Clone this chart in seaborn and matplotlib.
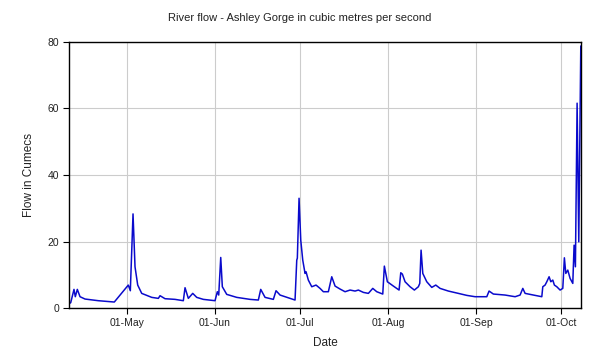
import numpy as np
import pandas as pd
import matplotlib
matplotlib.use("Agg")
import matplotlib.pyplot as plt
import matplotlib.dates as mdates
import seaborn as sns

# Days since 1 May and flow in cumecs
day_offset = [-20.32, -19.72, -18.56, -18.10, -17.39, -16.44, -14.68, -10.0, -4.37,
              0.56, 1.27, 2.22, 2.92, 3.87, 5.28, 8.80, 11.13, 11.73, 13.49, 17.01,
              19.93, 20.53, 21.69, 23.24, 24.65, 26.97, 31.09, 31.90, 32.39, 33.10,
              33.66, 35.21, 38.73, 43.42, 46.34, 47.18, 48.70, 51.62, 52.57, 53.98,
              57.50, 59.26, 59.86, 60.07, 60.67, 61.27, 61.97, 62.78, 63.13, 63.94,
              65.14, 66.65, 68.06, 69.23, 70.99, 72.18, 73.35, 75.11, 76.87, 78.63,
              80.39, 81.55, 83.31, 85.07, 86.62, 88.03, 90.14, 90.70, 91.76, 93.87,
              95.88, 96.48, 97.04, 97.99, 99.75, 101.27, 102.68, 103.17, 103.63, 104.23,
              105.63, 107.39, 108.80, 110.32, 113.24, 116.76, 119.72, 122.64, 126.76, 127.57,
              129.08, 133.20, 136.73, 138.49, 139.44, 140.25, 143.17, 146.13, 146.48, 147.29,
              147.89, 148.70, 149.30, 150.00, 150.56, 151.41, 152.57, 153.52, 154.08, 154.58,
              155.28, 156.09, 157.04, 157.50, 157.96, 158.56, 159.15, 159.86]
flow = [1.3, 1.6, 5.6, 3.4, 5.6, 3.4, 2.7, 2.2, 1.8,
        6.9, 5.2, 28.3, 12.4, 6.9, 4.4, 3.2, 2.9, 3.7, 2.8, 2.6,
        2.2, 6.1, 2.9, 4.4, 3.2, 2.6, 2.2, 4.9, 3.9, 15.2,
        6.4, 4.1, 3.2, 2.6, 2.4, 5.6, 3.2, 2.6, 5.2, 3.9,
        2.9, 2.4, 14.4, 15.0, 33.0, 20.4, 14.4, 10.4, 10.9, 8.4,
        6.4, 6.9, 5.9, 4.9, 4.9, 9.4, 6.6, 5.7, 4.9, 5.4,
        5.1, 5.4, 4.7, 4.4, 5.9, 4.9, 4.2, 12.6, 7.9, 6.6,
        5.4, 10.6, 10.2, 7.9, 6.4, 5.4, 6.4, 7.4, 17.4, 10.4,
        7.9, 6.2, 6.9, 5.9, 5.1, 4.4, 3.8, 3.4, 3.4, 5.1,
        4.2, 3.9, 3.4, 3.9, 5.9, 4.4, 3.9, 3.4, 6.4, 6.9,
        7.9, 9.4, 7.9, 8.4, 6.9, 6.4, 5.4, 5.9, 15.1, 10.4,
        11.4, 8.9, 7.4, 18.9, 12.4, 61.6, 19.9, 78.8]
y_ticks = [0, 20, 40, 60, 80]

base = pd.Timestamp("2013-05-01")
df = pd.DataFrame({
    "Date": base + pd.to_timedelta(day_offset, unit="D"),
    "Flow": flow,
})

sns.set_style("white")
plt.rcParams["font.family"] = ["Liberation Sans", "DejaVu Sans"]

fig = plt.figure(figsize=(6, 3.6), dpi=100)
ax = fig.add_axes([0.115, 0.1444, 0.853, 0.739])

sns.lineplot(data=df, x="Date", y="Flow", ax=ax, color="#0a0acc", linewidth=1.1,
             estimator=None, sort=False)

ax.set_xlim(df["Date"].min(), df["Date"].max())
ax.set_ylim(0, 80)
ax.set_yticks(y_ticks)
ax.xaxis.set_major_locator(mdates.MonthLocator(bymonthday=1))
ax.xaxis.set_major_formatter(mdates.DateFormatter("%d-%b"))

ax.grid(True, color="#cccccc", linewidth=0.8)
ax.set_axisbelow(True)
for s in ax.spines.values():
    s.set_color("black")
    s.set_linewidth(1.0)
    s.set_visible(True)
ax.tick_params(axis="both", which="major", direction="out", length=4, width=0.8,
               color="black", labelsize=7.5, labelcolor="#222222",
               bottom=True, left=True, pad=3)

ax.set_xlabel("Date", fontsize=8.5, color="#222222", labelpad=7)
ax.set_ylabel("Flow in Cumecs", fontsize=8.5, color="#222222", labelpad=9)
fig.text(0.5, 0.95, "River flow - Ashley Gorge in cubic metres per second",
         ha="center", va="center", fontsize=8, color="#222222")

fig.savefig("out.png", dpi=100, facecolor="white")
